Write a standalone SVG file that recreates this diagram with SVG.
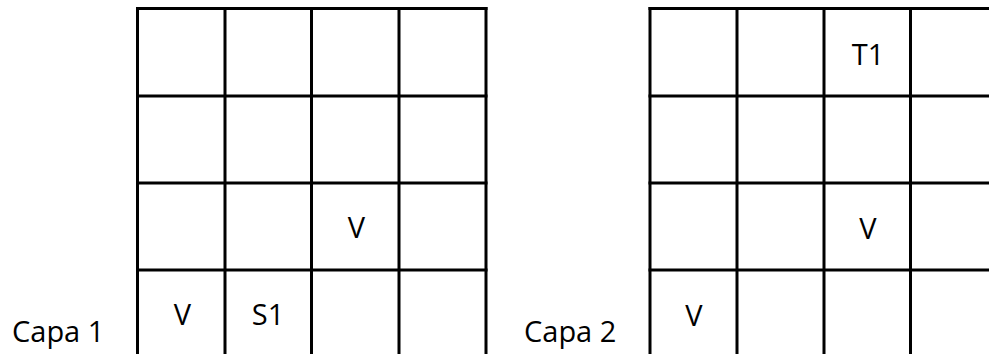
<svg xmlns="http://www.w3.org/2000/svg" width="989" height="354" viewBox="0 0 989 354">
<style>
.g line{stroke:#000;stroke-width:3;stroke-linecap:square}
text{font-family:"Open Sans","Liberation Sans",Arial,sans-serif;font-size:29px;fill:#000}
.c{text-anchor:middle}
</style>
<rect width="989" height="354" fill="#fff"/>
<g id="grid1" class="g">
<line x1="137.5" y1="8.5" x2="486" y2="8.5"/>
<line x1="137.5" y1="96" x2="486" y2="96"/>
<line x1="137.5" y1="183" x2="486" y2="183"/>
<line x1="137.5" y1="270" x2="486" y2="270"/>
<line x1="137.5" y1="8.5" x2="137.5" y2="360"/>
<line x1="225" y1="8.5" x2="225" y2="360"/>
<line x1="311.5" y1="8.5" x2="311.5" y2="360"/>
<line x1="399" y1="8.5" x2="399" y2="360"/>
<line x1="486" y1="8.5" x2="486" y2="360"/>
</g>
<g id="grid2" class="g">
<line x1="650" y1="8.5" x2="995" y2="8.5"/>
<line x1="650" y1="96" x2="995" y2="96"/>
<line x1="650" y1="183" x2="995" y2="183"/>
<line x1="650" y1="270" x2="995" y2="270"/>
<line x1="650" y1="8.5" x2="650" y2="360"/>
<line x1="737" y1="8.5" x2="737" y2="360"/>
<line x1="824" y1="8.5" x2="824" y2="360"/>
<line x1="910.5" y1="8.5" x2="910.5" y2="360"/>
</g>
<g id="labels1">
<text x="12" y="342">Capa 1</text>
<text class="c" x="182.5" y="325">V</text>
<text class="c" x="268" y="325">S1</text>
<text class="c" x="356.5" y="238">V</text>
</g>
<g id="labels2">
<text x="524" y="342">Capa 2</text>
<text class="c" x="694" y="326">V</text>
<text class="c" x="868" y="238.5">V</text>
<text class="c" x="868" y="65">T1</text>
</g>
</svg>
